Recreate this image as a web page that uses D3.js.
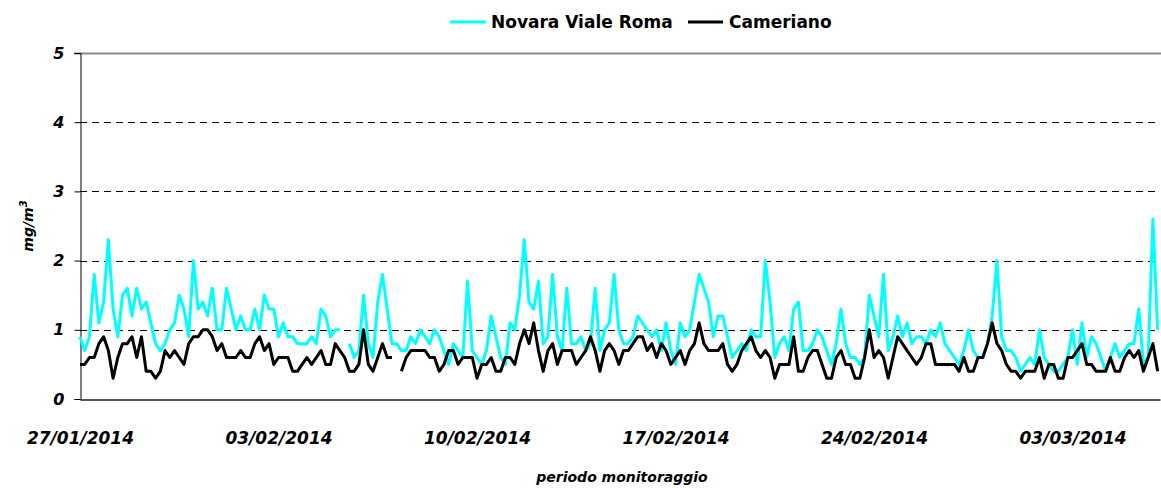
<!DOCTYPE html>
<html>
<head>
<meta charset="utf-8">
<script src="https://cdn.jsdelivr.net/npm/d3@7"></script>
<style>
  body { margin: 0; background: #fff; }
  svg { display: block; }
  text { font-family: "Comic Sans MS", "DejaVu Sans", sans-serif; font-weight: bold; fill: #000; }
</style>
</head>
<body>
<div id="chart"></div>
<script>
// CO concentrations (mg/m3), one reading every 4 hours from 27/01/2014 00:00
const seriesNames = ["Novara Viale Roma", "Cameriano"];
const seriesColors = ["#00ffff", "#000000"];

const novara = [
  // 27/01 - 02/02
  0.9,0.7,0.9,1.8,1.1,1.4,2.3,1.3,0.9,1.5,1.6,1.2,1.6,1.3,1.4,1.1,0.8,0.7,0.8,1.0,
  1.1,1.5,1.3,0.9,2.0,1.3,1.4,1.2,1.6,1.0,1.0,1.6,1.3,1.0,1.2,1.0,1.0,1.3,1.0,
  // 02/02 - 08/02
  1.5,1.3,1.3,0.9,1.1,0.9,0.9,0.8,0.8,0.8,0.9,0.8,1.3,1.2,0.9,1.0,1.0,null,0.8,0.6,
  0.7,1.5,0.8,0.6,1.4,1.8,1.3,0.8,0.8,0.7,0.7,0.9,0.8,1.0,0.9,0.8,1.0,0.9,
  0.7,
  // 09/02 - 15/02
  0.5,0.8,0.7,0.6,1.7,0.7,0.6,0.5,0.7,1.2,0.9,0.6,0.5,1.1,1.0,1.5,2.3,1.4,1.3,1.7,
  0.8,0.9,1.8,0.9,0.7,1.6,0.8,0.8,0.9,0.7,0.8,1.6,0.7,1.0,1.1,1.8,1.0,0.8,
  // 16/02 - 22/02
  0.8,0.9,1.2,1.1,1.0,0.9,1.0,0.7,1.1,0.7,0.5,1.1,0.9,1.0,1.4,1.8,1.6,1.4,0.9,1.2,
  1.2,0.9,0.6,0.7,0.8,0.7,1.0,0.9,0.9,2.0,1.4,0.6,0.8,0.9,0.7,1.3,1.4,0.7,
  // 22/02 - 28/02
  0.7,0.8,1.0,0.9,0.7,0.5,0.8,1.3,0.8,0.6,0.6,0.5,0.6,1.5,1.2,0.9,1.8,0.7,0.9,1.2,
  0.9,1.1,0.8,0.9,0.9,0.8,1.0,0.9,1.1,0.8,0.7,0.6,0.5,0.7,1.0,0.7,0.6,0.6,
  // 28/02 - 06/03
  0.8,1.2,2.0,0.9,0.7,0.7,0.6,0.4,0.5,0.6,0.5,1.0,0.6,0.5,0.4,0.4,0.5,0.6,1.0,0.5,
  1.1,0.6,0.9,0.8,0.6,0.4,0.6,0.8,0.6,0.7,0.8,0.8,1.3,0.5,0.6,2.6,1.0
];

const cameriano = [
  0.5,0.5,0.6,0.6,0.8,0.9,0.7,0.3,0.6,0.8,0.8,0.9,0.6,0.9,0.4,0.4,0.3,0.4,0.7,0.6,
  0.7,0.6,0.5,0.8,0.9,0.9,1.0,1.0,0.9,0.7,0.8,0.6,0.6,0.6,0.7,0.6,0.6,0.8,0.9,
  0.7,0.8,0.5,0.6,0.6,0.6,0.4,0.4,0.5,0.6,0.5,0.6,0.7,0.5,0.5,0.8,0.7,0.6,0.4,0.4,
  0.5,1.0,0.5,0.4,0.6,0.8,0.6,0.6,null,0.4,0.6,0.7,0.7,0.7,0.7,0.6,0.6,0.4,
  0.5,
  0.7,0.7,0.5,0.6,0.6,0.6,0.3,0.5,0.5,0.6,0.4,0.4,0.6,0.6,0.5,0.8,1.0,0.8,1.1,0.7,
  0.4,0.7,0.8,0.5,0.7,0.7,0.7,0.5,0.6,0.7,0.9,0.7,0.4,0.7,0.8,0.7,0.5,0.7,
  0.7,0.8,0.9,0.9,0.7,0.8,0.6,0.8,0.7,0.5,0.6,0.7,0.5,0.7,0.8,1.1,0.8,0.7,0.7,0.7,
  0.8,0.5,0.4,0.5,0.7,0.8,0.9,0.7,0.6,0.7,0.6,0.3,0.5,0.5,0.5,0.9,0.4,0.4,
  0.6,0.7,0.7,0.5,0.3,0.3,0.6,0.7,0.5,0.5,0.3,0.3,0.6,1.0,0.6,0.7,0.6,0.3,0.6,0.9,
  0.8,0.7,0.6,0.5,0.6,0.8,0.8,0.5,0.5,0.5,0.5,0.5,0.4,0.6,0.4,0.4,0.6,0.6,
  0.8,1.1,0.8,0.7,0.5,0.4,0.4,0.3,0.4,0.4,0.4,0.6,0.3,0.5,0.5,0.3,0.3,0.6,0.6,0.7,
  0.8,0.5,0.5,0.4,0.4,0.4,0.6,0.4,0.4,0.6,0.7,0.6,0.7,0.4,0.6,0.8,0.4
];

const xTickLabels = ["27/01/2014", "03/02/2014", "10/02/2014", "17/02/2014", "24/02/2014", "03/03/2014"];
const yTicks = [0, 1, 2, 3, 4, 5];
const xTitle = "periodo monitoraggio";

const width = 1161, height = 488;
const margin = { top: 53, right: 1, bottom: 89, left: 80 };

const parseDay = d3.timeParse("%d/%m/%Y");
const start = parseDay(xTickLabels[0]);
const stepHours = 4;
const timeOf = i => d3.timeHour.offset(start, i * stepHours);

const svg = d3.select("#chart")
    .append("svg")
    .attr("width", width)
    .attr("height", height);

const x = d3.scaleTime()
    .domain([start, d3.timeHour.offset(start, 914)])
    .range([margin.left, width - margin.right]);

const y = d3.scaleLinear()
    .domain([0, 5])
    .range([height - margin.bottom, margin.top]);

// gridlines
svg.append("g")
    .selectAll("line")
    .data(yTicks.filter(v => v > 0 && v < 5))
    .join("line")
    .attr("x1", margin.left)
    .attr("x2", width - margin.right)
    .attr("y1", d => Math.round(y(d)) + 0.5)
    .attr("y2", d => Math.round(y(d)) + 0.5)
    .attr("stroke", "#000")
    .attr("stroke-width", 1)
    .attr("stroke-dasharray", "7,5");

// top border of plot area
svg.append("line")
    .attr("x1", margin.left - 6).attr("x2", width)
    .attr("y1", Math.round(y(5)) + 0.5).attr("y2", Math.round(y(5)) + 0.5)
    .attr("stroke", "#8a8a8a")
    .attr("stroke-width", 2);

// y axis
const yAxis = svg.append("g")
    .attr("transform", `translate(${margin.left + 0.5},0)`)
    .call(d3.axisLeft(y).tickValues(yTicks).tickSize(6).tickFormat(d3.format("d")));
yAxis.select(".domain").attr("stroke", "#000");
yAxis.selectAll(".tick line").attr("stroke", "#000");
yAxis.selectAll(".tick text")
    .attr("x", -16)
    .style("font-size", "16px")
    .style("font-style", "italic");

// series lines
const series = [novara, cameriano];
const line = d3.line()
    .defined(d => d != null)
    .x((d, i) => x(timeOf(i)))
    .y(d => y(d));

svg.append("g")
    .selectAll("path")
    .data(series)
    .join("path")
    .attr("fill", "none")
    .attr("stroke", (d, i) => seriesColors[i])
    .attr("stroke-width", 3)
    .attr("stroke-linejoin", "round")
    .attr("d", line);

// x axis
const xAxis = svg.append("g")
    .attr("transform", `translate(0,${Math.round(y(0)) + 0.5})`)
    .call(d3.axisBottom(x)
        .tickValues(xTickLabels.map(parseDay))
        .tickSize(0)
        .tickPadding(32)
        .tickFormat(d3.timeFormat("%d/%m/%Y")));
xAxis.select(".domain").attr("stroke", "#555").attr("stroke-width", 2);
xAxis.selectAll(".tick text")
    .style("font-size", "17px")
    .style("font-style", "italic");

// axis titles
svg.append("text")
    .attr("x", 622)
    .attr("y", 482)
    .attr("text-anchor", "middle")
    .style("font-size", "14px")
    .style("font-style", "italic")
    .text(xTitle);

const yTitle = svg.append("text")
    .attr("transform", "translate(33,226) rotate(-90)")
    .attr("text-anchor", "middle")
    .style("font-size", "14px")
    .style("font-style", "italic");
yTitle.append("tspan").text("mg/m");
yTitle.append("tspan").attr("dy", -6).style("font-size", "10px").text("3");

// legend
const legendItems = [
    { name: seriesNames[0], color: seriesColors[0], x1: 450, x2: 486, tx: 491 },
    { name: seriesNames[1], color: seriesColors[1], x1: 688, x2: 723, tx: 729 }
];
const legend = svg.append("g").selectAll("g")
    .data(legendItems)
    .join("g");
legend.append("line")
    .attr("x1", d => d.x1).attr("x2", d => d.x2)
    .attr("y1", 22).attr("y2", 22)
    .attr("stroke", d => d.color)
    .attr("stroke-width", 3);
legend.append("text")
    .attr("x", d => d.tx)
    .attr("y", 28)
    .style("font-size", "17px")
    .text(d => d.name);
</script>
</body>
</html>
